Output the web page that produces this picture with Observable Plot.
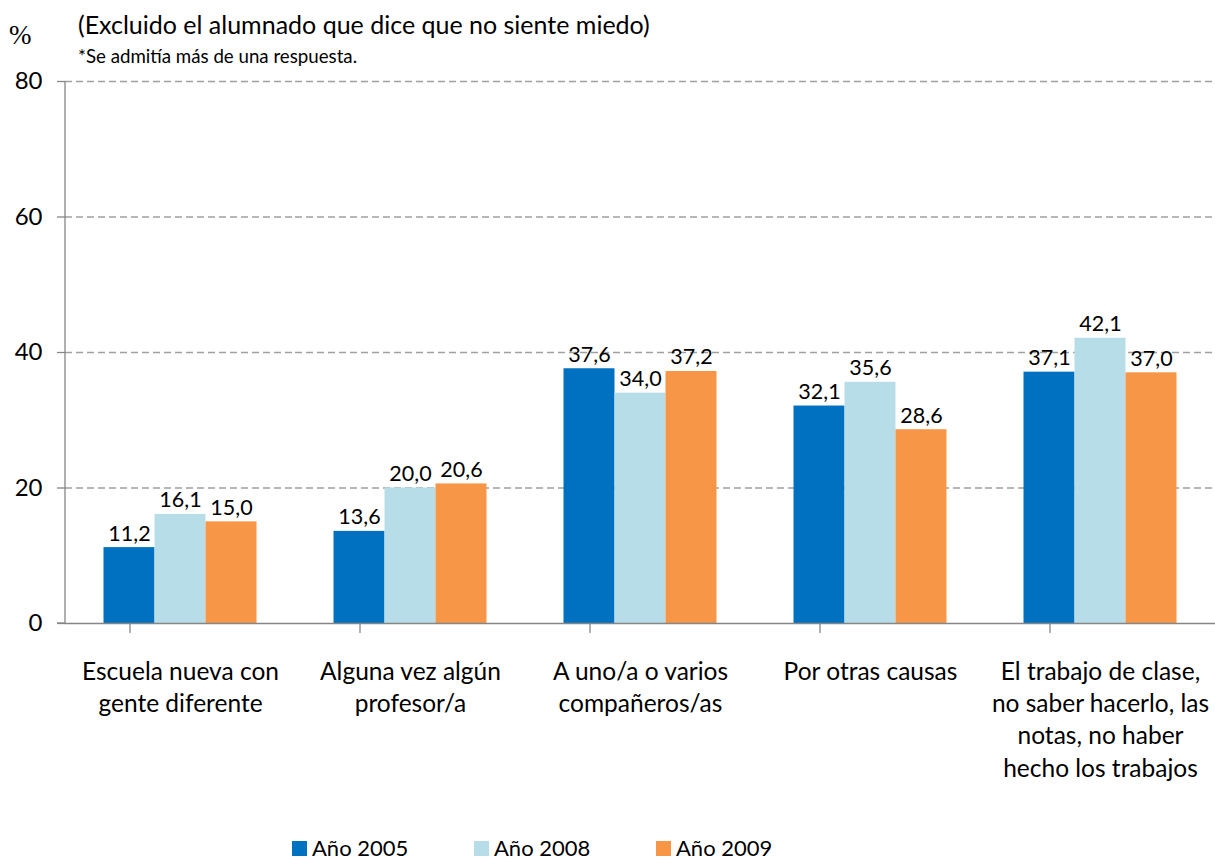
<!DOCTYPE html>
<html>
<head>
<meta charset="utf-8">
<script src="https://cdn.jsdelivr.net/npm/d3@7"></script>
<script src="https://cdn.jsdelivr.net/npm/@observablehq/plot@0.6"></script>
<style>
  html, body { margin: 0; padding: 0; background: #fff; }
  body { width: 1215px; height: 863px; position: relative; overflow: hidden; font-family: Lato, "Open Sans", sans-serif; color: #000; }
  #chart { position: absolute; left: 0; top: 0; }
  .pct { position: absolute; left: 9px; top: 22px; font-family: "Liberation Serif", "DejaVu Serif", serif; font-size: 27px; line-height: 1; }
  .title { position: absolute; left: 78px; top: 9px; font-size: 25px; line-height: 1.2; white-space: nowrap; }
  .subtitle { position: absolute; left: 78px; top: 45px; font-size: 18.7px; line-height: 1.2; white-space: nowrap; }
  .legend { position: absolute; top: 836px; left: 292px; display: flex; font-size: 22px; line-height: 1.1; }
  .legend .item { display: flex; align-items: center; width: 182px; }
  .legend .sw { width: 15px; height: 15px; margin-right: 5px; flex: none; }
</style>
</head>
<body>
<div id="chart"></div>
<div class="pct">%</div>
<div class="title">(Excluido el alumnado que dice que no siente miedo)</div>
<div class="subtitle">*Se admitía más de una respuesta.</div>
<div class="legend" id="legend"></div>
<script>
const categories = [
  "Escuela nueva con\ngente diferente",
  "Alguna vez algún\nprofesor/a",
  "A uno/a o varios\ncompañeros/as",
  "Por otras causas",
  "El trabajo de clase,\nno saber hacerlo, las\nnotas, no haber\nhecho los trabajos"
];
const years = ["Año 2005", "Año 2008", "Año 2009"];
const values2005 = [11.2, 13.6, 37.6, 32.1, 37.1];
const values2008 = [16.1, 20.0, 34.0, 35.6, 42.1];
const values2009 = [15.0, 20.6, 37.2, 28.6, 37.0];
const yTicks = [0, 20, 40, 60, 80];
const colors = ["#0070C0", "#B7DDE8", "#F79646"];

const series = [values2005, values2008, values2009];
const data = [];
categories.forEach((c, i) => {
  years.forEach((y, j) => data.push({cat: c, year: y, value: series[j][i]}));
});
const fmt = v => v.toFixed(1).replace(".", ",");

const W = 1215, H = 863, ML = 65, MR = 0, MT = 81, MB = 240;

const plot = Plot.plot({
  width: W, height: H,
  marginLeft: ML, marginRight: MR, marginTop: MT, marginBottom: MB,
  style: {fontFamily: "Lato, 'Open Sans', sans-serif", color: "#000", background: "transparent"},
  fx: {domain: categories, padding: 0, axis: null, label: null},
  x: {domain: years, paddingInner: 0, paddingOuter: 0.755, axis: null, round: false},
  y: {domain: [0, 80], axis: null},
  color: {domain: years, range: colors},
  marks: [
    Plot.gridY(yTicks.filter(d => d > 0), {stroke: "#a0a0a0", strokeOpacity: 1, strokeWidth: 1.3, strokeDasharray: "7,4"}),
    Plot.barY(data, {fx: "cat", x: "year", y: "value", fill: "year"}),
    Plot.ruleY([0], {stroke: "#868686", strokeWidth: 1.3}),
    Plot.text(data, {fx: "cat", x: "year", y: "value", text: d => fmt(d.value), lineAnchor: "bottom", dy: -7, fontSize: 21.5, fill: "#000"}),
    Plot.text(categories, {fx: d => d, text: d => d, frameAnchor: "bottom", lineAnchor: "top", dy: 34, fontSize: 24.5, lineHeight: 1.31, fill: "#000"}),
    Plot.axisY({ticks: yTicks, tickSize: 8, tickPadding: 15, fontSize: 24, stroke: "#868686", strokeWidth: 1.3, label: null, tickFormat: d => d})
  ]
});
document.getElementById("chart").appendChild(plot);

// axis line and category boundary ticks, positioned via Plot's scales
const fx = plot.scale("fx");
const ys = plot.scale("y");
const svg = d3.select(plot);
const g = svg.append("g").attr("stroke", "#868686").attr("stroke-width", 1.3);
g.append("line").attr("x1", ML).attr("x2", ML).attr("y1", ys.apply(80)).attr("y2", ys.apply(0));
g.append("line").attr("x1", ML - 8).attr("x2", ML).attr("y1", ys.apply(0)).attr("y2", ys.apply(0));
categories.forEach(c => {
  const x0 = ML + fx.apply(c);
  g.append("line").attr("x1", x0).attr("x2", x0).attr("y1", ys.apply(0)).attr("y2", ys.apply(0) + 10);
});

// legend
const leg = d3.select("#legend");
years.forEach((y, i) => {
  const it = leg.append("div").attr("class", "item");
  it.append("div").attr("class", "sw").style("background", colors[i]);
  it.append("span").text(y);
});
</script>
</body>
</html>
